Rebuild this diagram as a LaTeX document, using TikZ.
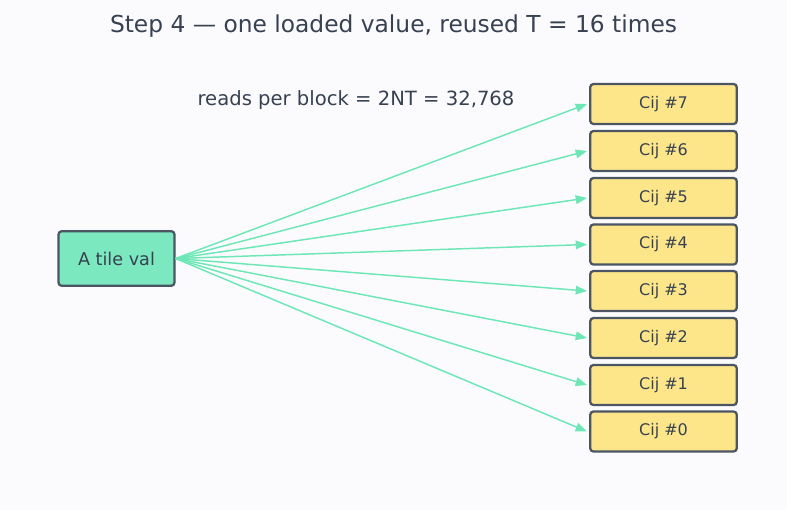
\documentclass[tikz,border=0pt]{standalone}
\usepackage{fontspec}
\setmainfont{DejaVu Sans}
\usetikzlibrary{arrows.meta}
\definecolor{bg}{HTML}{FBFBFD}
\definecolor{txt}{HTML}{374151}
\definecolor{edge}{HTML}{4B5563}
\definecolor{mint}{HTML}{7BE8C0}
\definecolor{yel}{HTML}{FDE68A}
\definecolor{arr}{HTML}{6EE7B7}
\tikzset{
  box/.style={draw=edge, line width=1.7pt, rounded corners=2.5pt, text=txt, inner sep=0pt},
  srcbox/.style={box, fill=mint, minimum width=87pt, minimum height=41pt, font=\fontsize{13.2pt}{15pt}\selectfont},
  cbox/.style={box, fill=yel, minimum width=110pt, minimum height=30pt, text height=0.73em, text depth=0.1em, font=\fontsize{12pt}{14pt}\selectfont},
  link/.style={draw=arr, line width=1.1pt, -{Triangle[length=8.5pt,width=6.5pt]}},
}
\begin{document}
\begin{tikzpicture}[x=0.75pt,y=-0.75pt]
\path[fill=bg] (0,0) rectangle (787,510);
\useasboundingbox (0,0) rectangle (787,510);
\node[text=txt, font=\fontsize{17.5pt}{20pt}\selectfont] (title) at (393.5,26) {Step 4 — one loaded value, reused T = 16 times};
\node[text=txt, font=\fontsize{14.7pt}{17pt}\selectfont] (sub) at (356,100) {reads per block = 2NT = 32,768};
\node[srcbox] (a) at (116.5,258.5) {A tile val};
\foreach \i/\y in {7/104,6/151,5/198,4/244.5,3/291,2/338,1/385,0/431.5}{
  \node[cbox] (c\i) at (663.5,\y) {Cij \#\i};
  \draw[link] (a.east) -- ([xshift=-1.5pt]c\i.west);
}
\end{tikzpicture}
\end{document}
